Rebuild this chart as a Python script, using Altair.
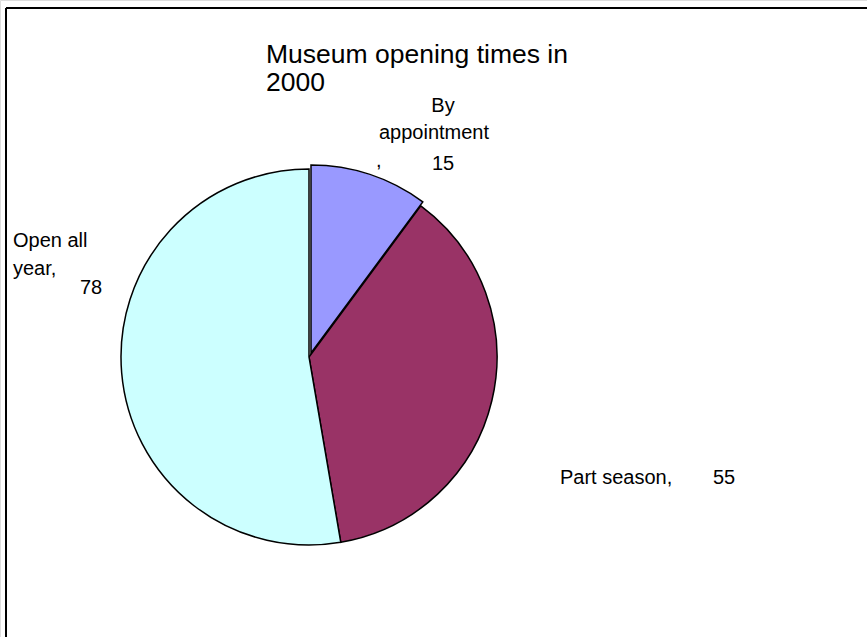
import altair as alt
import pandas as pd
from itertools import accumulate

# ---- data ----
categories = ["By appointment", "Part season", "Open all year"]
values = [15, 55, 78]
colors = ["#9999FF", "#993366", "#CCFFFF"]
title_lines = ["Museum opening times in", "2000"]

total = sum(values)
ends = list(accumulate(values))
starts = [e - v for e, v in zip(ends, values)]
df = pd.DataFrame({"category": categories, "value": values,
                   "start": starts, "end": ends})

FONT = "Liberation Sans"
W, H = 867, 637
CX, CY, R = 309, 357, 188

theta_scale = alt.Scale(domain=[0, total], range=[0, 6.283185307179586])
color_scale = alt.Scale(domain=categories, range=colors)

base = alt.Chart(df)

main_arcs = base.transform_filter(
    alt.datum.category != categories[0]
).mark_arc(radius=R, stroke="black", strokeWidth=1.5).encode(
    theta=alt.Theta("start:Q", scale=theta_scale),
    theta2="end:Q",
    color=alt.Color("category:N", scale=color_scale, legend=None),
    x=alt.value(CX), y=alt.value(CY),
)

explode_arc = base.transform_filter(
    alt.datum.category == categories[0]
).mark_arc(radius=R, stroke="black", strokeWidth=1.5).encode(
    theta=alt.Theta("start:Q", scale=theta_scale),
    theta2="end:Q",
    color=alt.Color("category:N", scale=color_scale, legend=None),
    x=alt.value(CX + 2), y=alt.value(CY - 4),
)

dummy = alt.Chart(pd.DataFrame({"a": [0]}))

def txt(s, x, y, size=20, align="left"):
    return dummy.mark_text(text=s, font=FONT, fontSize=size, align=align,
                           baseline="alphabetic", color="black").encode(
        x=alt.value(x), y=alt.value(y))

texts = [
    txt(title_lines[0], 266, 63, 26.5),
    txt(title_lines[1], 266, 91, 26.5),
    txt("By", 443, 112, align="center"),
    txt("appointment", 434, 139, align="center"),
    txt(",", 376, 167),
    txt(str(values[0]), 443, 170, align="center"),
    txt("Open all", 13, 247),
    txt("year,", 13, 275),
    txt(str(values[2]), 80, 294),
    txt("Part season,", 560, 484),
    txt(str(values[1]), 713, 484),
]

frame_left = dummy.mark_rule(color="black", strokeWidth=2).encode(
    x=alt.value(6), y=alt.value(8), y2=alt.value(H))
frame_top = dummy.mark_rule(color="black", strokeWidth=2).encode(
    x=alt.value(6), x2=alt.value(W), y=alt.value(8))

chart = alt.layer(main_arcs, explode_arc, frame_left, frame_top, *texts).properties(
    width=W, height=H,
    autosize=alt.AutoSizeParams(type="none"),
    padding=0,
).configure_view(stroke=None).configure(background="white")

chart.save("out.html", embed_options={"renderer": "svg", "actions": False})
